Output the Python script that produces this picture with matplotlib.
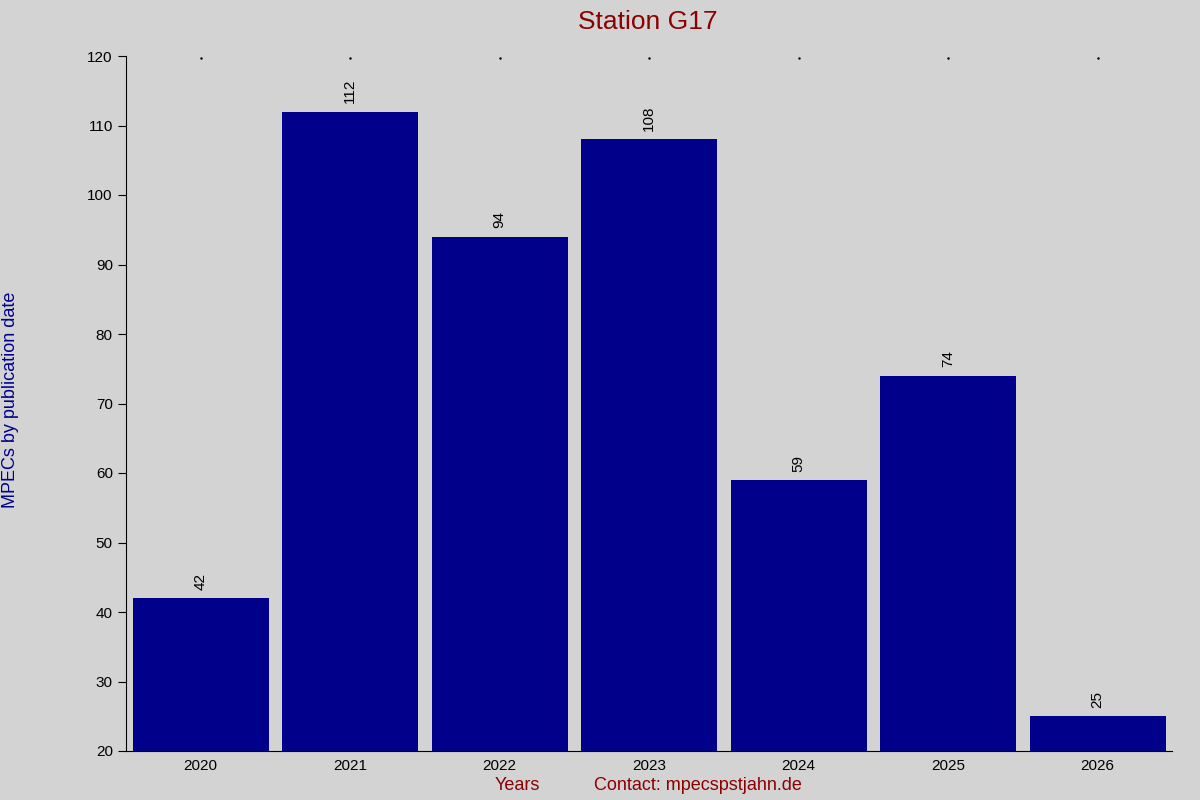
import matplotlib
matplotlib.use("Agg")
import matplotlib.pyplot as plt

plt.rcParams['font.family'] = ['Liberation Sans', 'DejaVu Sans']

years = ["2020", "2021", "2022", "2023", "2024", "2025", "2026"]
counts = [42, 112, 94, 108, 59, 74, 25]

fig = plt.figure(figsize=(12, 8), dpi=100, facecolor='#D3D3D3')
ax = fig.add_axes([0.105, 0.06125, 0.872, 0.86875])
ax.set_facecolor('#D3D3D3')
x = list(range(len(years)))
ax.bar(x, counts, width=0.91, color='#00008B', bottom=0)
ax.set_ylim(20, 120)
ax.set_xlim(-0.5, len(years) - 0.5)
ax.set_yticks(range(20, 121, 10))
ax.set_xticks(x)
ax.set_xticklabels(years)
ax.tick_params(axis='y', direction='out', length=6, labelsize=11)
ax.tick_params(axis='x', length=0, labelsize=11, pad=6, top=True, direction='in')
for s in ['top', 'right']:
    ax.spines[s].set_visible(False)
for xi, v in zip(x, counts):
    ax.text(xi, v + 1.2, str(v), rotation=90, ha='center', va='bottom', fontsize=11)
for xi in x:
    ax.plot(xi, 119.7, marker='.', color='black', markersize=1.5, clip_on=False)
fig.text(0.54, 0.973, "Station G17", color='#8B0000', fontsize=19, ha='center', va='center')
fig.text(0.431, 0.018, "Years", color='#8B0000', fontsize=13, ha='center', va='center')
fig.text(0.582, 0.018, "Contact: mpecspstjahn.de", color='#8B0000', fontsize=13, ha='center', va='center')
fig.text(0.009, 0.5, "MPECs by publication date", color='#00008B', fontsize=13, rotation=90, ha='center', va='center')
fig.savefig("out.png", dpi=100, facecolor=fig.get_facecolor())
